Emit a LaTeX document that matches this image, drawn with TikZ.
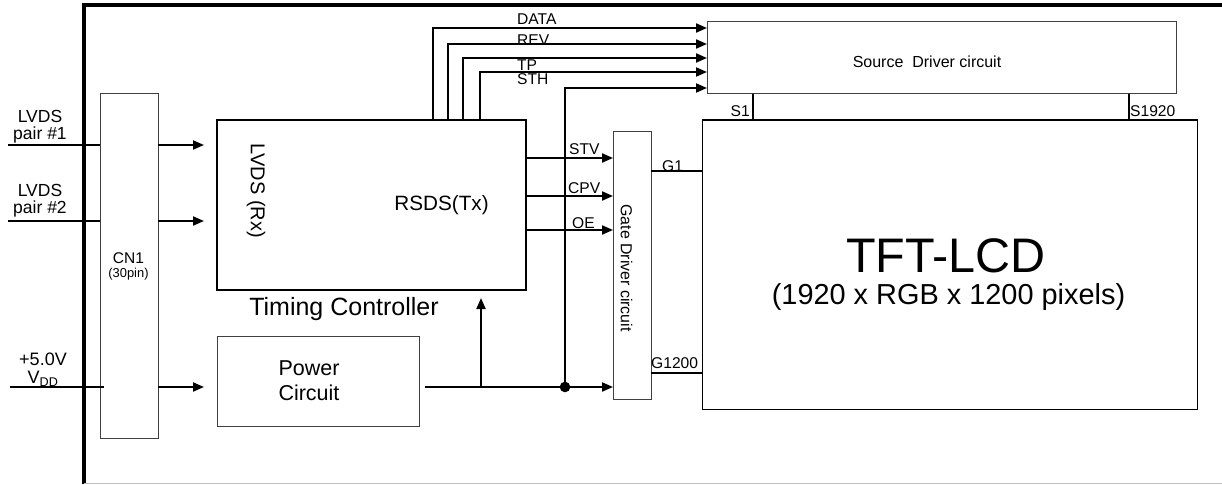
\documentclass[tikz,border=0pt]{standalone}
\usepackage{fontspec}
\setmainfont{Liberation Sans}
\usepackage{tikz}
\usetikzlibrary{positioning}
\usetikzlibrary{arrows.meta}

\tikzset{
	box/.style={rectangle, draw=black!75, line width=1pt, inner sep=0pt, outer sep=0pt},
	arr/.style={line width=2pt, -{Triangle[length=11pt,width=9pt]}},
	wire/.style={line width=1.5pt},
	lbl/.style={inner sep=0pt, font=\fontsize{15.6}{17}\selectfont},
}

\begin{document}
\begin{tikzpicture}[x=1pt,y=-1pt]
	\useasboundingbox (0,0) rectangle (1222,484);
	\draw[line width=4.5pt] (84,484) -- (84,5) -- (1222,5);
	\draw[black!25] (84,483.5) -- (1222,483.5);

	\node[box, minimum width=58, minimum height=344] (CN) at (129,266) {};
	\node[box, draw=black, line width=2pt, minimum width=309, minimum height=170] (TC) at (371.5,205) {};
	\node[box, minimum width=202, minimum height=90] (PWR) at (318,381) {};
	\node[box, minimum width=469, minimum height=72] (SRC) at (941.5,58) {};
	\node[box, minimum width=38, minimum height=268] (GD) at (632,265) {};
	\node[box, draw=black, minimum width=495, minimum height=289] (LCD) at (949.5,264.5) {};

	\coordinate (in1) at (8,145);
	\coordinate (in2) at (8,221);
	\coordinate (in3) at (10,387);
	\draw[wire] (in1) -- (CN.west |- in1);
	\draw[wire] (in2) -- (CN.west |- in2);
	\draw[wire, line width=2pt] (in3) -- ([xshift=4pt]CN.west |- in3);
	\draw[arr, shorten >=13pt] (CN.east |- in1) -- (TC.west |- in1);
	\draw[arr, shorten >=13pt] (CN.east |- in2) -- (TC.west |- in2);
	\draw[arr, shorten >=13pt] (CN.east |- in3) -- (PWR.west |- in3);

	\coordinate (tap) at (481,387);
	\coordinate (jn) at (565,387);
	\draw[arr, shorten <=6pt] (PWR.east |- in3) -- (GD.west |- in3);
	\draw[arr, shorten >=8pt] (tap) -- (tap |- TC.south);
	\fill (jn) circle (5.3);

	\draw[arr] ([xshift=61.5pt]TC.north) |- ([yshift=30pt]SRC.west);
	\draw[arr] ([xshift=76.5pt]TC.north) |- ([yshift=14pt]SRC.west);
	\draw[arr] ([xshift=91.5pt]TC.north) |- (SRC.west);
	\draw[arr] ([xshift=108.5pt]TC.north) |- ([yshift=-14pt]SRC.west);
	\draw[arr] (jn) |- ([yshift=-30pt]SRC.west);

	\coordinate (stv) at ([yshift=47pt]TC.east);
	\coordinate (cpv) at ([yshift=9pt]TC.east);
	\coordinate (oe) at ([yshift=-25pt]TC.east);
	\draw[arr] (stv) -- (stv -| GD.west);
	\draw[arr] (cpv) -- (cpv -| GD.west);
	\draw[arr] (oe) -- (oe -| GD.west);

	\coordinate (g1) at ([yshift=94pt]GD.east);
	\coordinate (gn) at ([yshift=-108pt]GD.east);
	\draw[line width=2pt] (g1) -- (g1 -| LCD.west);
	\draw[line width=1.2pt] (gn) -- (gn -| LCD.west);
	\coordinate (s1) at ([xshift=-188.5pt]SRC.south);
	\coordinate (sn) at ([xshift=187.5pt]SRC.south);
	\draw[wire] (s1) -- (s1 |- LCD.north);
	\draw[wire] (sn) -- (sn |- LCD.north);

	\node[lbl, anchor=base west] (lData) at (517,25) {DATA};
	\node[lbl, anchor=base west] (lRev) at (517,46) {REV};
	\node[lbl, anchor=base west] (lTp) at (517,70.5) {TP};
	\node[lbl, anchor=base west] (lSth) at (517,85) {STH};
	\node[lbl, anchor=base west] (lStv) at (569,154) {STV};
	\node[lbl, anchor=base west] (lCpv) at (568,193) {CPV};
	\node[lbl, anchor=base west] (lOe) at (572,228) {OE};
	\node[lbl, anchor=base west] (lG1) at (662,171) {G1};
	\node[lbl, anchor=base west] (lGn) at (651,368) {G1200};
	\node[lbl, anchor=base east] (lS1) at (750,117) {S1};
	\node[lbl, anchor=base west] (lSn) at (1130,117) {S1920};

	\node[lbl, font=\fontsize{17.5}{16.5}\selectfont, align=center, anchor=south] (lIn1) at (40,143) {LVDS\\pair \#1};
	\node[lbl, font=\fontsize{17.5}{16.5}\selectfont, align=center, anchor=south] (lIn2) at (40,217) {LVDS\\pair \#2};
	\node[lbl, font=\fontsize{18}{18}\selectfont, align=center, anchor=north] (lIn3) at (43,353) {+5.0V\\V\textsubscript{DD}};
	\node[lbl, font=\fontsize{15.5}{17}\selectfont, anchor=base] (lCn) at (128.5,263) {CN1};
	\node[lbl, font=\fontsize{12.9}{14}\selectfont, anchor=base] (lPin) at (128.5,277.5) {(30pin)};
	\node[lbl, font=\fontsize{20}{22}\selectfont, rotate=-90] (lRx) at (256,191) {LVDS (Rx)};
	\node[lbl, font=\fontsize{20.7}{22}\selectfont, anchor=base] (lTx) at (441.5,210) {RSDS(Tx)};
	\node[lbl, font=\fontsize{25}{28}\selectfont, below=7pt of TC, xshift=-27.5pt] (lTc) {Timing Controller};
	\node[lbl, font=\fontsize{21.5}{25}\selectfont, align=center] (lPwr) at (309,381) {Power\\Circuit};
	\node[lbl, font=\fontsize{16}{18}\selectfont] (lSrc) at (927,61.5) {Source~ Driver circuit};
	\node[lbl, font=\fontsize{15.9}{17}\selectfont, rotate=-90] (lGd) at (626.5,268) {Gate Driver circuit};
	\node[lbl, font=\fontsize{48.5}{50}\selectfont, anchor=base] (lLcd) at (946,272) {TFT-LCD};
	\node[lbl, font=\fontsize{28.9}{30}\selectfont, anchor=base] (lPix) at (948.5,304) {(1920 x RGB x 1200 pixels)};
\end{tikzpicture}
\end{document}
